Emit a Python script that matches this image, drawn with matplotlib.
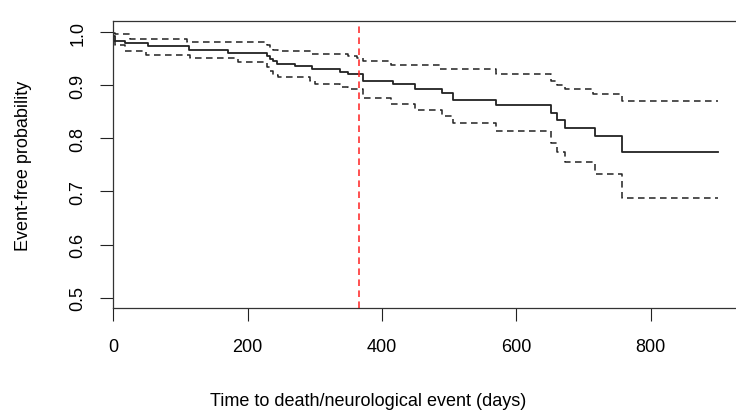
import numpy as np
import matplotlib
matplotlib.use("Agg")
import matplotlib.pyplot as plt

plt.rcParams['font.family'] = ['Liberation Sans', 'DejaVu Sans']

# Kaplan-Meier estimate (days, probability)
km_days = [0, 3, 17, 52, 112, 170, 228, 233, 238, 243, 270, 295, 337, 350, 372,
           416, 449, 489, 506, 570, 651, 660, 672, 717, 757, 900]
km_surv = [0.993, 0.984, 0.979, 0.973, 0.966, 0.961, 0.955, 0.950, 0.945, 0.940,
           0.9355, 0.930, 0.925, 0.921, 0.908, 0.902, 0.892, 0.885, 0.873, 0.8626,
           0.848, 0.834, 0.820, 0.804, 0.7734, 0.7734]

# upper confidence limit
up_days = [0, 3, 25, 109, 228, 233, 238, 245, 295, 350, 362, 372, 414, 486, 570,
           651, 660, 672, 714, 757, 900]
up_surv = [0.999, 0.997, 0.987, 0.981, 0.976, 0.971, 0.967, 0.965, 0.959, 0.955,
           0.951, 0.946, 0.9385, 0.930, 0.921, 0.908, 0.900, 0.892, 0.883, 0.870, 0.870]

# lower confidence limit
lo_days = [0, 3, 17, 49, 114, 186, 228, 233, 238, 245, 293, 300, 337, 350, 372,
           414, 449, 489, 506, 570, 651, 660, 672, 717, 757, 900]
lo_surv = [0.984, 0.976, 0.965, 0.9575, 0.9506, 0.943, 0.935, 0.927, 0.920, 0.9146,
           0.908, 0.902, 0.897, 0.892, 0.875, 0.865, 0.853, 0.842, 0.829, 0.813,
           0.792, 0.774, 0.755, 0.733, 0.687, 0.687]

one_year = 365
x_ticks = [0, 200, 400, 600, 800]
y_ticks = [0.5, 0.6, 0.7, 0.8, 0.9, 1.0]

fig = plt.figure(figsize=(7.36, 4.14), dpi=100)
ax = fig.add_axes([0.154, 0.2529, 0.858, 0.6928])

ax.step(km_days, km_surv, where='post', color='#222222', lw=1.3)
ax.step(up_days, up_surv, where='post', color='#222222', lw=1.1, dashes=(4.3, 2.9))
ax.step(lo_days, lo_surv, where='post', color='#222222', lw=1.1, dashes=(4.3, 2.9))
ax.axvline(one_year, color='#ff2020', lw=1.1, dashes=(4.3, 2.9))

ax.set_xlim(0, 940)
ax.set_ylim(0.48, 1.02)
ax.set_xticks(x_ticks)
ax.set_yticks(y_ticks)
ax.set_yticklabels([f"{v:.1f}" for v in y_ticks])

ax.tick_params(axis='both', length=9.4, width=0.8, labelsize=13, color='#222222')
ax.tick_params(axis='x', pad=12)
ax.tick_params(axis='y', pad=10, labelrotation=90)
for lab in ax.get_yticklabels():
    lab.set_va('center')

for s in ax.spines.values():
    s.set_linewidth(0.9)
    s.set_color('#333333')

ax.set_xlabel("Time to death/neurological event (days)", fontsize=13)
ax.xaxis.set_label_coords(0.403, -0.322)
ax.xaxis.label.set_va('center')
ax.set_ylabel("Event-free probability", fontsize=13)
ax.yaxis.set_label_coords(-0.143, 0.5)
ax.yaxis.label.set_va('center')

fig.savefig("out.png", dpi=100)
